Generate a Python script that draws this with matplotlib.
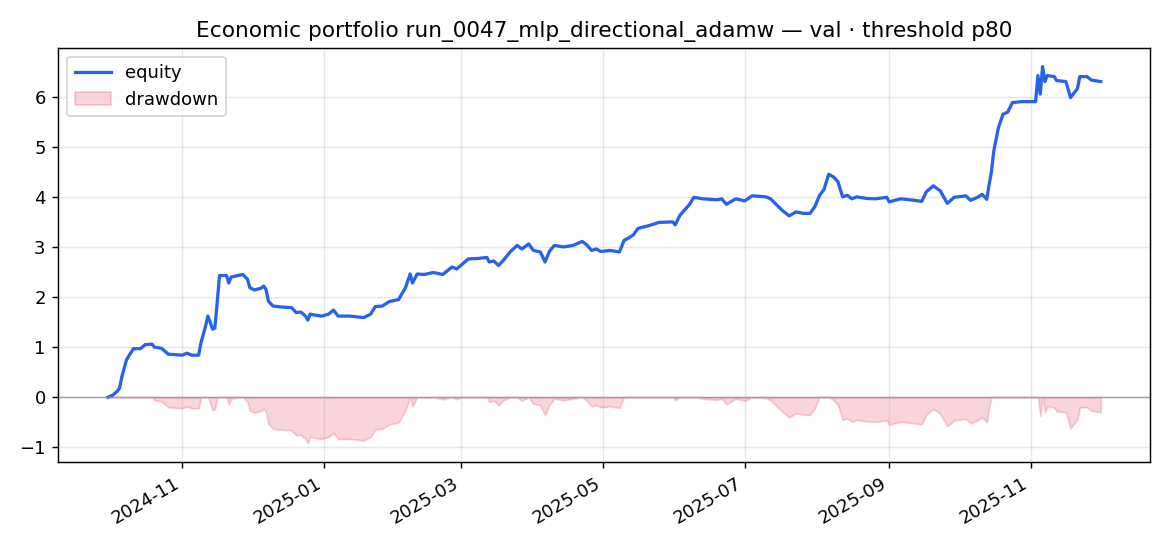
import pandas as pd
import numpy as np
import matplotlib
matplotlib.use("Agg")
import matplotlib.pyplot as plt
import matplotlib.dates as mdates

dates = [
    "2024-09-30", "2024-10-02", "2024-10-04", "2024-10-05", "2024-10-06", "2024-10-08",
    "2024-10-11", "2024-10-14", "2024-10-16", "2024-10-19", "2024-10-20", "2024-10-23",
    "2024-10-26", "2024-10-29", "2024-11-01", "2024-11-03", "2024-11-05", "2024-11-08",
    "2024-11-09", "2024-11-11", "2024-11-12", "2024-11-13", "2024-11-14", "2024-11-15",
    "2024-11-16", "2024-11-17", "2024-11-20", "2024-11-21", "2024-11-22", "2024-11-27",
    "2024-11-29", "2024-11-30", "2024-12-02", "2024-12-05", "2024-12-06", "2024-12-07",
    "2024-12-08", "2024-12-10", "2024-12-14", "2024-12-18", "2024-12-20", "2024-12-22",
    "2024-12-24", "2024-12-25", "2024-12-26", "2024-12-28", "2024-12-31", "2025-01-03",
    "2025-01-05", "2025-01-07", "2025-01-12", "2025-01-18", "2025-01-21", "2025-01-23",
    "2025-01-26", "2025-01-29", "2025-02-02", "2025-02-05", "2025-02-07", "2025-02-08",
    "2025-02-10", "2025-02-13", "2025-02-17", "2025-02-21", "2025-02-25", "2025-02-27",
    "2025-03-01", "2025-03-04", "2025-03-08", "2025-03-12", "2025-03-13", "2025-03-15",
    "2025-03-17", "2025-03-19", "2025-03-22", "2025-03-25", "2025-03-27", "2025-03-30",
    "2025-04-01", "2025-04-04", "2025-04-06", "2025-04-08", "2025-04-10", "2025-04-14",
    "2025-04-18", "2025-04-22", "2025-04-24", "2025-04-26", "2025-04-28", "2025-04-30",
    "2025-05-04", "2025-05-08", "2025-05-10", "2025-05-12", "2025-05-14", "2025-05-16",
    "2025-05-21", "2025-05-25", "2025-05-31", "2025-06-01", "2025-06-03", "2025-06-07",
    "2025-06-09", "2025-06-13", "2025-06-19", "2025-06-21", "2025-06-23", "2025-06-27",
    "2025-07-01", "2025-07-04", "2025-07-10", "2025-07-12", "2025-07-14", "2025-07-17",
    "2025-07-20", "2025-07-23", "2025-07-26", "2025-07-29", "2025-07-31", "2025-08-02",
    "2025-08-04", "2025-08-06", "2025-08-08", "2025-08-10", "2025-08-12", "2025-08-14",
    "2025-08-16", "2025-08-18", "2025-08-22", "2025-08-26", "2025-08-31", "2025-09-01",
    "2025-09-06", "2025-09-12", "2025-09-15", "2025-09-17", "2025-09-20", "2025-09-23",
    "2025-09-26", "2025-09-29", "2025-10-04", "2025-10-06", "2025-10-09", "2025-10-11",
    "2025-10-13", "2025-10-14", "2025-10-15", "2025-10-16", "2025-10-18", "2025-10-20",
    "2025-10-22", "2025-10-24", "2025-10-28", "2025-11-03", "2025-11-04", "2025-11-05",
    "2025-11-06", "2025-11-07", "2025-11-08", "2025-11-11", "2025-11-12", "2025-11-16",
    "2025-11-17", "2025-11-18", "2025-11-21", "2025-11-22", "2025-11-25", "2025-11-27",
    "2025-12-01",
]

equity = [
    0.00, 0.04, 0.12, 0.18, 0.41, 0.75,
    0.97, 0.97, 1.05, 1.06, 1.00, 0.98,
    0.86, 0.85, 0.84, 0.88, 0.84, 0.84,
    1.08, 1.42, 1.62, 1.50, 1.36, 1.38,
    1.89, 2.43, 2.43, 2.28, 2.40, 2.45,
    2.36, 2.19, 2.14, 2.18, 2.22, 2.15,
    1.92, 1.82, 1.80, 1.79, 1.69, 1.70,
    1.62, 1.54, 1.66, 1.64, 1.62, 1.66,
    1.74, 1.62, 1.62, 1.59, 1.66, 1.81,
    1.82, 1.91, 1.95, 2.19, 2.46, 2.28,
    2.46, 2.45, 2.49, 2.45, 2.60, 2.56,
    2.64, 2.76, 2.77, 2.79, 2.70, 2.72,
    2.63, 2.73, 2.90, 3.03, 2.96, 3.06,
    2.93, 2.90, 2.70, 2.92, 3.03, 3.00,
    3.03, 3.11, 3.04, 2.93, 2.96, 2.91,
    2.93, 2.90, 3.13, 3.18, 3.24, 3.37,
    3.43, 3.49, 3.50, 3.44, 3.63, 3.84,
    3.99, 3.96, 3.94, 3.96, 3.85, 3.96,
    3.92, 4.02, 4.00, 3.96, 3.87, 3.73,
    3.62, 3.70, 3.67, 3.67, 3.80, 4.02,
    4.15, 4.45, 4.40, 4.30, 4.00, 4.03,
    3.96, 4.00, 3.97, 3.96, 3.99, 3.90,
    3.96, 3.93, 3.91, 4.10, 4.22, 4.12,
    3.87, 3.99, 4.02, 3.93, 3.99, 4.05,
    3.95, 4.24, 4.50, 4.91, 5.38, 5.65,
    5.69, 5.88, 5.90, 5.90, 6.42, 6.05,
    6.60, 6.30, 6.42, 6.40, 6.32, 6.30,
    6.15, 5.98, 6.16, 6.40, 6.40, 6.33,
    6.30,
]

title = "Economic portfolio run_0047_mlp_directional_adamw \u2014 val \u00b7 threshold p80"

df = pd.DataFrame({"date": pd.to_datetime(dates), "equity": equity})
df["drawdown"] = df["equity"] - df["equity"].cummax()

fig, ax = plt.subplots(figsize=(9.0, 4.2), dpi=130)

ax.plot(df["date"], df["equity"], color="#2563eb", lw=1.8, label="equity")
ax.fill_between(df["date"], df["drawdown"], 0, color="crimson", alpha=0.18, label="drawdown")
ax.axhline(0, color="#8a94a6", lw=0.8, alpha=0.8)

ax.set_title(title)
ax.grid(True, alpha=0.3)
ax.legend(loc="upper left")

ax.xaxis.set_major_locator(mdates.MonthLocator(bymonth=[1, 3, 5, 7, 9, 11]))
ax.xaxis.set_major_formatter(mdates.DateFormatter("%Y-%m"))
fig.autofmt_xdate()

fig.subplots_adjust(left=0.0498, right=0.9832, bottom=0.1544, top=0.9126)
fig.savefig("out.png", dpi=130)
